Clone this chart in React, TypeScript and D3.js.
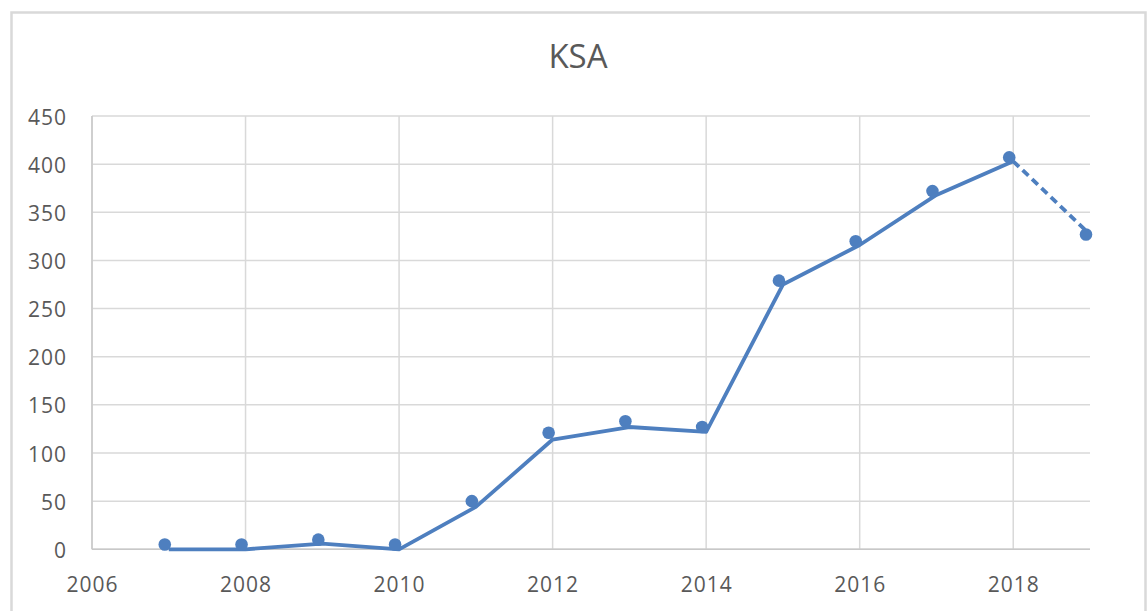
import React from 'react';
import * as d3 from 'd3';

const years = [2007, 2008, 2009, 2010, 2011, 2012, 2013, 2014, 2015, 2016, 2017, 2018, 2019];
// marker series (dots)
const markerValues = [5, 5, 10, 5, 50, 121, 133, 127, 279, 320, 372, 407, 327];
// solid line series (2007-2018), then dashed projection to 2019
const lineValues = [0, 0, 6, 0, 44, 114, 127, 122, 275, 316, 368, 403];
const projectedValues = [403, 327];
const xTicks = [2006, 2008, 2010, 2012, 2014, 2016, 2018];
const yTicks = [0, 50, 100, 150, 200, 250, 300, 350, 400, 450];

const W = 1148;
const H = 611;
const BLUE = '#4e7fbf';
const GRID = '#d9d9d9';
const TEXT = '#595959';
const FONT = '"Open Sans", "Liberation Sans", sans-serif';

const App = () => {
  const x = d3.scaleLinear().domain([2006, 2019]).range([92, 1090]);
  const y = d3.scaleLinear().domain([0, 450]).range([549.3, 116]);

  const line = d3.line<[number, number]>()
    .x(d => x(d[0]))
    .y(d => y(d[1]));

  const solid: [number, number][] = lineValues.map((v, i) => [years[i], v]);
  const dashed: [number, number][] = projectedValues.map((v, i) => [years[years.length - 2 + i], v]);

  return (
    <svg width={W} height={H} style={{ position: 'absolute', left: 0, top: 0, background: '#fff' }}>
      {/* chart frame */}
      <rect x={11.5} y={12.5} width={1134} height={H + 10} fill="#fff" stroke={GRID} strokeWidth={2.5} />

      <text x={578} y={68} textAnchor="middle" fontFamily={FONT} fontSize={33} fill={TEXT}>KSA</text>

      {/* horizontal grid */}
      {yTicks.map(t => (
        <line key={'h' + t} x1={x(2006)} x2={x(2019)} y1={y(t)} y2={y(t)} stroke={GRID} strokeWidth={1.5} />
      ))}
      {/* vertical grid */}
      {xTicks.map(t => (
        <line key={'v' + t} x1={x(t)} x2={x(t)} y1={y(450)} y2={y(0)} stroke={GRID} strokeWidth={1.5} />
      ))}
      <line x1={x(2006)} x2={x(2019)} y1={y(0)} y2={y(0)} stroke="#c8c8c8" strokeWidth={1.5} />
      <line x1={x(2006)} x2={x(2006)} y1={y(450)} y2={y(0)} stroke="#c8c8c8" strokeWidth={1.5} />

      {yTicks.map(t => (
        <text key={'yl' + t} x={67} y={y(t) + 3} textAnchor="end" dominantBaseline="middle"
          fontFamily={FONT} fontSize={21} letterSpacing={1} fill={TEXT}>{t}</text>
      ))}
      {xTicks.map(t => (
        <text key={'xl' + t} x={x(t) + 0.5} y={586} textAnchor="middle" dominantBaseline="middle"
          fontFamily={FONT} fontSize={21} letterSpacing={1} fill={TEXT}>{t}</text>
      ))}

      <path d={line(solid) || ''} fill="none" stroke={BLUE} strokeWidth={3.8} strokeLinejoin="round" />
      <path d={line(dashed) || ''} fill="none" stroke={BLUE} strokeWidth={3.8} strokeDasharray="8,5" />

      <g transform="translate(-4,0)">
        {markerValues.map((v, i) => (
          <circle key={'m' + i} cx={x(years[i])} cy={y(v)} r={6.3} fill={BLUE} />
        ))}
      </g>
    </svg>
  );
};

export default App;
